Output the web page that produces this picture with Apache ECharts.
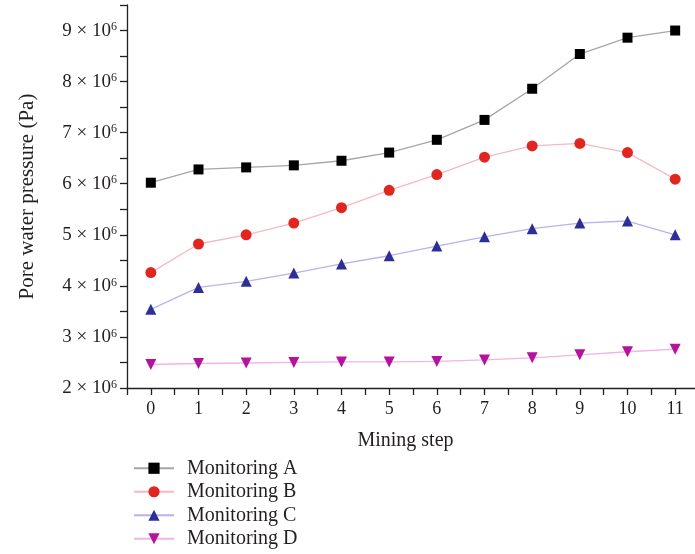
<!DOCTYPE html>
<html>
<head>
<meta charset="UTF-8">
<script src="https://cdn.jsdelivr.net/npm/echarts@6/dist/echarts.min.js"></script>
</head>
<body style="margin:0;background:#fff;">
<div id="main" style="width:695px;height:554px;"></div>
<script>
    /* 数据 */
    var steps = [0, 1, 2, 3, 4, 5, 6, 7, 8, 9, 10, 11];
    var monA = [6020000, 6280000, 6320000, 6360000, 6450000, 6610000, 6860000, 7250000, 7860000, 8540000, 8860000, 9000000];
    var monB = [4260000, 4820000, 5000000, 5230000, 5530000, 5870000, 6180000, 6520000, 6740000, 6790000, 6610000, 6090000];
    var monC = [3540000, 3970000, 4090000, 4250000, 4430000, 4590000, 4780000, 4960000, 5120000, 5230000, 5270000, 5000000];
    var monD = [2460000, 2480000, 2490000, 2500000, 2510000, 2510000, 2520000, 2550000, 2590000, 2650000, 2710000, 2760000];
    var names = ['Monitoring A', 'Monitoring B', 'Monitoring C', 'Monitoring D'];

    var font = 'Liberation Serif';
    var axisColor = '#231f20';

    function pairs(vals) {
        return steps.map(function (s, i) { return [s, vals[i]]; });
    }

    var chart = echarts.init(document.getElementById('main'));
    var option = {
        backgroundColor: '#fff',
        animation: false,
        grid: {left: 127, right: -4, top: 5, bottom: 166, outerBoundsMode: 'none', containLabel: false},
        legend: {
            orient: 'vertical',
            left: 133,
            top: 458,
            padding: 0,
            height: 100,
            itemWidth: 40,
            itemHeight: 14,
            itemGap: 3,
            data: names,
            textStyle: {fontFamily: font, fontSize: 20, color: '#231f20', lineHeight: 20.5, padding: [0, 0, 0, 8]}
        },
        xAxis: {
            type: 'value',
            min: -0.5,
            max: 11.5,
            interval: 0.5,
            name: 'Mining step',
            nameLocation: 'middle',
            nameGap: 43,
            nameTextStyle: {fontFamily: font, fontSize: 20, color: '#231f20', padding: [0, 15, 0, 0]},
            axisLine: {onZero: false, lineStyle: {color: axisColor, width: 1.3}},
            axisTick: {length: 7, lineStyle: {color: axisColor, width: 1.3}},
            axisLabel: {
                margin: 12,
                fontFamily: font, fontSize: 18, color: '#231f20',
                formatter: function (v) { return (v % 1 === 0 && v >= 0 && v <= 11) ? String(v) : ''; }
            },
            splitLine: {show: false}
        },
        yAxis: {
            type: 'value',
            min: 2000000,
            max: 9500000,
            interval: 500000,
            name: 'Pore water pressure (Pa)',
            nameLocation: 'middle',
            nameGap: 89,
            nameTextStyle: {fontFamily: font, fontSize: 21, color: '#231f20'},
            axisLine: {show: true, onZero: false, lineStyle: {color: axisColor, width: 1.3}},
            axisTick: {show: true, length: 7, lineStyle: {color: axisColor, width: 1.3}},
            axisLabel: {
                margin: 10,
                formatter: function (v) {
                    if (v % 1000000 !== 0) return '';
                    return '{m|' + (v / 1000000) + ' × 10}{e|6}';
                },
                rich: {
                    m: {fontFamily: font, fontSize: 19, color: '#231f20'},
                    e: {fontFamily: font, fontSize: 12, color: '#231f20', verticalAlign: 'top'}
                }
            },
            splitLine: {show: false}
        },
        series: [{
            name: names[0],
            type: 'line',
            data: pairs(monA),
            symbol: 'rect',
            symbolSize: 10,
            lineStyle: {color: '#a6a6a6', width: 1.3},
            itemStyle: {color: '#000000'}
        }, {
            name: names[1],
            type: 'line',
            data: pairs(monB),
            symbol: 'circle',
            symbolSize: 11,
            lineStyle: {color: '#f7b8c4', width: 1.3},
            itemStyle: {color: '#e0261f'}
        }, {
            name: names[2],
            type: 'line',
            data: pairs(monC),
            symbol: 'triangle',
            symbolSize: 11,
            lineStyle: {color: '#b9b2ee', width: 1.3},
            itemStyle: {color: '#2e2f96'}
        }, {
            name: names[3],
            type: 'line',
            data: pairs(monD),
            symbol: 'triangle',
            symbolRotate: 180,
            symbolSize: 11,
            lineStyle: {color: '#f4b3e3', width: 1.3},
            itemStyle: {color: '#b5129e'}
        }]
    };
    chart.setOption(option);

    window.addEventListener("resize", function () {
        chart.resize();
    });
</script>
</body>
</html>
